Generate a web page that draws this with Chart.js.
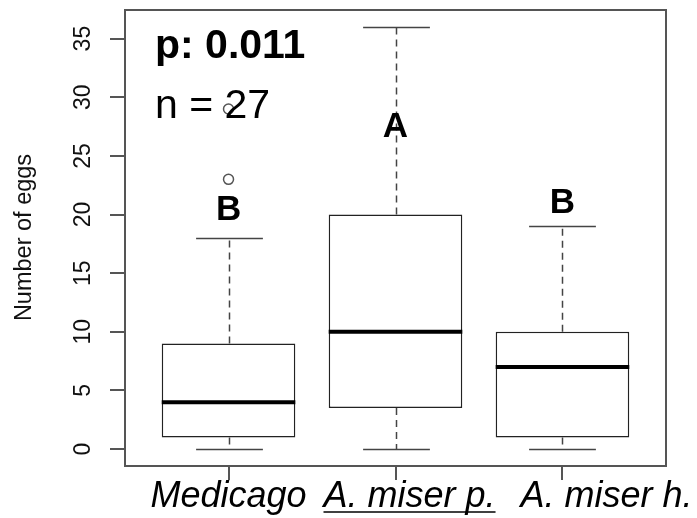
<!DOCTYPE html>
<html>
<head>
<meta charset="utf-8">
<script src="https://cdn.jsdelivr.net/npm/chart.js@4.4.1/dist/chart.umd.min.js"></script>
<style>
  html, body { margin: 0; padding: 0; background: #fff; }
  #wrap { width: 697px; height: 518px; }
</style>
</head>
<body>
<div id="wrap"><canvas id="myChart" width="697" height="518"></canvas></div>
<script>
// data
var categories = ['Medicago', 'A. miser p.', 'A. miser h.'];
var whiskerLow = [0, 0, 0];
var q1 = [1, 3.5, 1];
var median = [4, 10, 7];
var q3 = [9, 20, 10];
var whiskerHigh = [18, 36, 19];
var outliers = [[23, 29], [], []];
var groupLetters = ['B', 'A', 'B'];
var yTicks = [0, 5, 10, 15, 20, 25, 30, 35];
var pText = 'p: 0.011';
var nText = 'n = 27';

// layout bits (not data)
var letterY = [19.5, 26.6, 20.1];
var labelShift = [-78, -72, -42];
var underlined = [false, true, false];
var FONT = "'Liberation Sans', Arial, sans-serif";

var boxParts = {
  id: 'boxParts',
  beforeDatasetsDraw: function (chart) {
    var c = chart.ctx, a = chart.chartArea;
    var xs = chart.scales.x, ys = chart.scales.y;
    var bars = chart.getDatasetMeta(0).data;
    c.save();
    // whiskers go under the boxes
    c.strokeStyle = '#444';
    c.lineWidth = 1.5;
    categories.forEach(function (cat, i) {
      var x = Math.round(xs.getPixelForValue(i + 1)) + 0.5;
      c.setLineDash([7, 5]);
      c.beginPath();
      c.moveTo(x, ys.getPixelForValue(q3[i]));
      c.lineTo(x, ys.getPixelForValue(whiskerHigh[i]));
      c.moveTo(x, ys.getPixelForValue(q1[i]));
      c.lineTo(x, ys.getPixelForValue(whiskerLow[i]));
      c.stroke();
      c.setLineDash([]);
      var hw = bars[i].width / 4;
      c.beginPath();
      [whiskerHigh[i], whiskerLow[i]].forEach(function (v) {
        var y = Math.round(ys.getPixelForValue(v)) + 0.5;
        c.moveTo(x - hw, y);
        c.lineTo(x + hw, y);
      });
      c.stroke();
    });
    // frame
    c.strokeStyle = '#555';
    c.lineWidth = 2;
    c.strokeRect(a.left, a.top, a.right - a.left, a.bottom - a.top);
    c.restore();
  },
  afterDatasetsDraw: function (chart) {
    var c = chart.ctx;
    var xs = chart.scales.x, ys = chart.scales.y;
    var bars = chart.getDatasetMeta(0).data;
    c.save();
    c.strokeStyle = '#000';
    c.lineWidth = 4;
    categories.forEach(function (cat, i) {
      var x = xs.getPixelForValue(i + 1), hw = bars[i].width / 2;
      var y = ys.getPixelForValue(median[i]);
      c.beginPath();
      c.moveTo(x - hw, y);
      c.lineTo(x + hw, y);
      c.stroke();
    });
    c.restore();
  },
  afterDraw: function (chart) {
    var c = chart.ctx, a = chart.chartArea;
    var xs = chart.scales.x, ys = chart.scales.y;
    c.save();
    c.fillStyle = '#111';
    // y tick labels, rotated like R's default
    c.font = '23px ' + FONT;
    c.textAlign = 'center';
    c.textBaseline = 'alphabetic';
    yTicks.forEach(function (v) {
      c.save();
      c.translate(90, ys.getPixelForValue(v));
      c.rotate(-Math.PI / 2);
      c.fillText(String(v), 0, 0);
      c.restore();
    });
    // y title
    c.font = '23.5px ' + FONT;
    c.save();
    c.translate(31, (a.top + a.bottom) / 2 - 0.5);
    c.rotate(-Math.PI / 2);
    c.fillText('Number of eggs', 0, 0);
    c.restore();
    // stats text
    c.fillStyle = '#000';
    c.textAlign = 'left';
    c.font = 'bold 41px ' + FONT;
    c.fillText(pText, 155, 58);
    c.font = '41px ' + FONT;
    c.fillText(nText, 155, 118);
    // group letters
    c.textAlign = 'center';
    c.font = 'bold 35px ' + FONT;
    groupLetters.forEach(function (t, i) {
      c.fillText(t, xs.getPixelForValue(i + 1), ys.getPixelForValue(letterY[i]));
    });
    // category labels
    c.textAlign = 'left';
    c.font = 'italic 36px ' + FONT;
    c.strokeStyle = '#000';
    c.lineWidth = 1.5;
    categories.forEach(function (t, i) {
      var x0 = xs.getPixelForValue(i + 1) + labelShift[i];
      c.fillText(t, x0, 507);
      if (underlined[i]) {
        var w = c.measureText(t).width;
        c.beginPath();
        c.moveTo(x0, 512);
        c.lineTo(x0 + w, 512);
        c.stroke();
      }
    });
    c.restore();
  }
};

var ctx = document.getElementById('myChart').getContext('2d');
var myChart = new Chart(ctx, {
  type: 'bar',
  data: {
    datasets: [{
      data: categories.map(function (c, i) { return {x: i + 1, y: [q1[i], q3[i]]}; }),
      backgroundColor: '#fff',
      borderColor: '#222',
      borderWidth: 1.5,
      borderSkipped: false,
      barPercentage: 0.8,
      categoryPercentage: 1
    }, {
      type: 'scatter',
      data: outliers.reduce(function (acc, list, i) {
        return acc.concat(list.map(function (v) { return {x: i + 1, y: v}; }));
      }, []),
      pointRadius: 5,
      pointBorderWidth: 1.5,
      pointBorderColor: '#555',
      pointBackgroundColor: 'rgba(0,0,0,0)',
      showLine: false
    }]
  },
  plugins: [boxParts],
  options: {
    responsive: false,
    maintainAspectRatio: false,
    animation: false,
    layout: {padding: {top: 10, right: 31, left: 0, bottom: 0}},
    plugins: {legend: {display: false}, tooltip: {enabled: false}},
    scales: {
      x: {
        type: 'linear', min: 0.38, max: 3.62, offset: false,
        afterBuildTicks: function (s) { s.ticks = categories.map(function (c, i) { return {value: i + 1}; }); },
        afterFit: function (s) { s.height = 52; },
        ticks: {display: false},
        grid: {drawOnChartArea: false, offset: false, tickLength: 14, color: '#555', lineWidth: 2},
        border: {display: true, color: '#555', width: 2}
      },
      y: {
        type: 'linear', min: -1.44, max: 37.44,
        afterBuildTicks: function (s) { s.ticks = yTicks.map(function (v) { return {value: v}; }); },
        afterFit: function (s) { s.width = 125; },
        ticks: {display: false},
        grid: {drawOnChartArea: false, tickLength: 15, color: '#555', lineWidth: 2},
        border: {display: true, color: '#555', width: 2}
      }
    }
  }
});
</script>
</body>
</html>
